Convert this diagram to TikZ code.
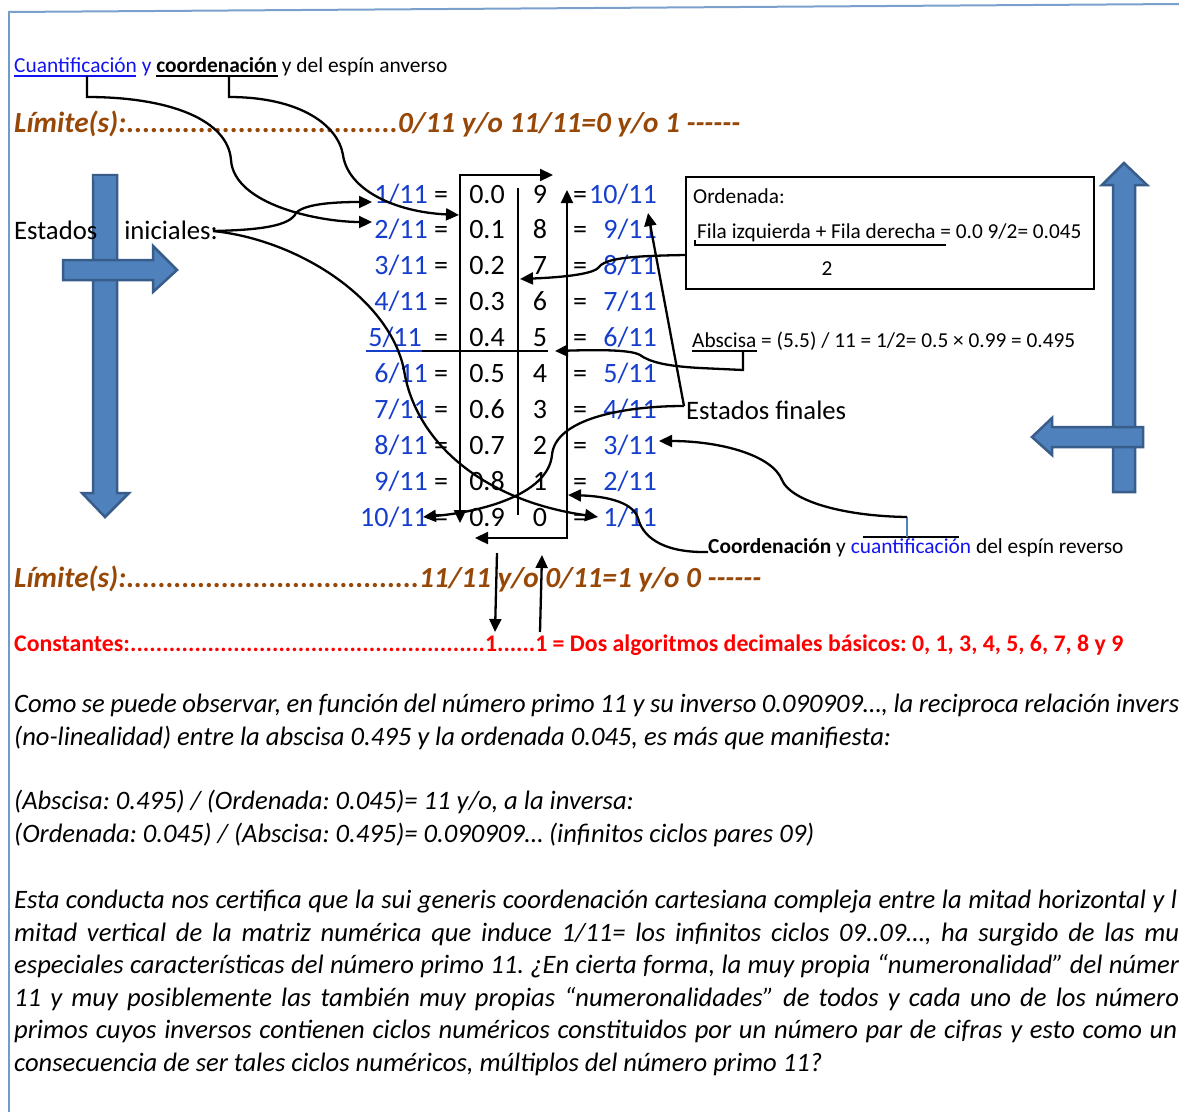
\documentclass[tikz,border=0pt]{standalone}
\usepackage{fontspec}
\setmainfont{Carlito}
\usetikzlibrary{arrows.meta}
\definecolor{fracblue}{RGB}{22,62,205}
\definecolor{linkblue}{RGB}{20,20,240}
\definecolor{limbrown}{RGB}{152,72,6}
\definecolor{arrfill}{RGB}{79,129,189}
\definecolor{arredge}{RGB}{56,93,138}
\definecolor{borderblue}{RGB}{79,129,189}
\definecolor{constred}{RGB}{255,0,0}
\tikzset{
  >={Triangle[length=13pt,width=12pt]},
  cline/.style={line width=2.3pt},
  tbl/.style={inner sep=0pt, font=\fontsize{28}{32}\selectfont},
  frac/.style={tbl, text=fracblue},
  smalltxt/.style={inner sep=0pt, anchor=base west, font=\fontsize{21.4}{25}\selectfont},
  bigtxt/.style={inner sep=0pt, anchor=base west, font=\fontsize{26.7}{31}\selectfont},
  limtxt/.style={inner sep=0pt, anchor=base west, text=limbrown, font=\fontsize{29.2}{33}\selectfont\bfseries\itshape},
  consttxt/.style={inner sep=0pt, anchor=base west, text=constred, font=\fontsize{23.8}{27}\selectfont\bfseries},
  paratxt/.style={inner sep=0pt, anchor=base west, font=\fontsize{26.6}{31}\selectfont\itshape},
  blockarrow/.style={fill=arrfill, draw=arredge, line width=2.5pt, line join=miter},
}
\newcommand{\dotsto}[2]{\makebox[#1pt][l]{#2\xleaders\hbox{.}\hfill}}
\newcommand{\sixdash}{{-}{-}{-}{-}{-}{-}}
\frenchspacing
\begin{document}
\begin{tikzpicture}[x=1pt,y=-1pt]
\useasboundingbox (0,0) rectangle (1179,1112);
\clip (0,0) rectangle (1179,1112);
\fill[white] (0,0) rectangle (1179,1112);
% border
\draw[borderblue!80, line width=2pt] (9,1112) -- (9,12);
\draw[borderblue!75, line width=2pt] (8,12) -- (1179,4);

% ---------- top label
\node[smalltxt] (toplbl) at (14,72) {\textcolor{linkblue}{Cuantificación y} \textbf{coordenación} y del espín anverso};
\draw[linkblue, line width=1.3pt] (14,76) -- (136,76);
\draw[black, line width=1.8pt] (156,76) -- (278,76);
\coordinate (cuanU) at (87,76);
\coordinate (coorU) at (229,76);

% ---------- limits
\node[limtxt] (lim1) at (14,132) {\dotsto{384}{Límite(s):}0/11 y/o 11/11=0 y/o 1 \sixdash};
\node[limtxt] (lim2) at (14,587) {\dotsto{405}{Límite(s):}11/11 y/o 0/11=1 y/o 0 \sixdash};
\node[consttxt] (const) at (14,651) {\dotsto{471}{Constantes:}1......1 = Dos algoritmos decimales básicos: 0, 1, 3, 4, 5, 6, 7, 8 y 9};

% ---------- blue block arrows (left)
\draw[blockarrow] (93,175) -- (117,175) -- (117,493) -- (129,493) -- (105,517) -- (82,493) -- (93,493) -- cycle;
\node[bigtxt] (estini) at (14,239) {Estados\hspace{21pt} iniciales:};
\draw[blockarrow] (93,175) -- (117,175) -- (117,258);
\draw[blockarrow] (63,260) -- (153,260) -- (153,246) -- (177,270) -- (153,292) -- (153,280) -- (63,280) -- cycle;
% right
\draw[blockarrow] (1113,492) -- (1113,185) -- (1102,185) -- (1124,163) -- (1147,185) -- (1135,185) -- (1135,492) -- cycle;
\draw[blockarrow] (1143,427) -- (1052,427) -- (1052,418) -- (1032,437) -- (1052,455) -- (1052,447) -- (1143,447) -- cycle;

% ---------- table
\foreach \i in {1,...,10}{
  \pgfmathsetmacro{\b}{203+35.9*(\i-1)}
  \pgfmathtruncatemacro{\dl}{\i-1}
  \pgfmathtruncatemacro{\dr}{10-\i}
  \pgfmathtruncatemacro{\rf}{11-\i}
  \pgfmathsetmacro{\lx}{ifthenelse(\i==5,422,428)}
  \node[frac, anchor=base east] (l\i) at (\lx,\b) {\i/11};
  \node[tbl, anchor=base] (e\i) at (441,\b) {=};
  \node[tbl, anchor=base] (a\i) at (487,\b) {0.\dl};
  \node[tbl, anchor=base] (d\i) at (540,\b) {\dr};
  \node[tbl, anchor=base] (q\i) at (580,\b) {=};
  \node[frac, anchor=base east] (r\i) at (657,\b) {\rf/11};
}
\draw[fracblue, line width=1.5pt] (366,351) -- (422,351);
\draw[cline] (422,351) -- (548,351);
\coordinate (c1a) at (460,523); \coordinate (c1b) at (460,175); \coordinate (c1c) at (553,175);
\draw[cline, <->] (c1a) -- (c1b) -- (c1c);
\coordinate (c2a) at (518,188); \coordinate (c2b) at (518,515);
\draw[cline] (c2a) -- (c2b);
\coordinate (c3a) at (567,190); \coordinate (c3b) at (567,538); \coordinate (c3c) at (475,538);
\draw[cline, <->] (c3a) -- (c3b) -- (c3c);

% ---------- ordenada box
\node[draw, line width=1.5pt, minimum width=408pt, minimum height=112pt, anchor=north west, inner sep=0pt] (ordbox) at (685,176) {};
\node[smalltxt, font=\fontsize{21.3}{26}\selectfont] (ord1) at (693,203) {Ordenada:};
\node[smalltxt, font=\fontsize{21.3}{26}\selectfont] (ord2) at (697,238) {Fila izquierda + Fila derecha = 0.0 9/2= 0.045};
\draw[line width=2pt] (695,240) -- (695,245) -- (946,245);
\node[smalltxt, anchor=base, font=\fontsize{21.3}{26}\selectfont] (ord3) at (827,275) {2};
\node[smalltxt, font=\fontsize{21.3}{26}\selectfont] (absc) at (692,347) {Abscisa = (5.5) / 11 = 1/2= 0.5 × 0.99 = 0.495};
\draw[line width=1.4pt] (692,351) -- (757,351);

\node[bigtxt] (estfin) at (686,419) {Estados finales};

% reverse label
\node[smalltxt] (revlbl) at (708,553) {\textbf{Coordenación} y \textcolor{linkblue}{cuantificación} del espín reverso};
\draw[line width=1.4pt] (863,537) -- (959,537);
\draw[arrfill, line width=1.5pt] (907,537) -- (907,517);

% ---------- connectors
\coordinate (t2l) at (372,222);
\coordinate (t1l) at (372,202);
\coordinate (t01) at (459,215);
\coordinate (t1r) at (598,517);
\coordinate (t10r) at (648,213);
\coordinate (t10l) at (423,517);
\coordinate (t7m) at (520,279);
\coordinate (t5m) at (555,351);
\coordinate (t3r) at (659,441);
\coordinate (t2r) at (568,495);
\coordinate (ordL) at (685,255);
\coordinate (absU) at (743,352);
\coordinate (estF) at (684,406);
\coordinate (estI) at (213,231);
\coordinate (revU) at (907,517);
\coordinate (revC) at (708,552);

\draw[cline, ->] (cuanU) -- (87,97) .. controls (170,97) and (228,120) .. (231,160) .. controls (234,205) and (320,222) .. (t2l);
\draw[cline, ->] (coorU) -- (229,97) .. controls (300,97) and (338,125) .. (343,155) .. controls (348,190) and (395,212) .. (t01);
\draw[cline, ->] (estI) .. controls (260,230) and (290,226) .. (296,213) .. controls (305,203) and (340,202) .. (t1l);
\draw[cline, ->] (estI) .. controls (300,240) and (390,300) .. (404,370) .. controls (415,440) and (480,500) .. (t1r);
\draw[cline, ->] (estF) -- (t10r);
\draw[cline, ->] (estF) .. controls (620,406) and (555,420) .. (552,455) .. controls (548,495) and (480,512) .. (t10l);
\draw[cline, ->] (ordL) .. controls (630,256) and (605,258) .. (598,268) .. controls (590,276) and (545,278) .. (t7m);
\draw[cline, ->] (absU) -- (743,370) -- (700,368) .. controls (665,366) and (650,362) .. (640,355) .. controls (630,349) and (590,350) .. (t5m);
\draw[cline, ->] (revU) .. controls (840,516) and (790,500) .. (782,480) .. controls (772,455) and (720,441) .. (t3r);
\draw[cline, ->] (revC) .. controls (660,553) and (642,535) .. (638,518) .. controls (632,500) and (600,496) .. (t2r);
\coordinate (dA) at (497,553); \coordinate (dB) at (495,632);
\coordinate (uA) at (540,632); \coordinate (uB) at (542,555);
\draw[cline, ->] (dA) -- (dB);
\draw[cline, ->] (uA) -- (uB);

% ---------- paragraphs
\node[paratxt] (p1) at (14,712) {\makebox[1165pt][s]{Como se puede observar, en función del número primo 11 y su inverso 0.090909…, la reciproca relación invers}};
\node[paratxt] (p2) at (14,745) {(no-linealidad) entre la abscisa 0.495 y la ordenada 0.045, es más que manifiesta:};
\node[paratxt] (p3) at (14,809) {(Abscisa: 0.495) / (Ordenada: 0.045)= 11 y/o, a la inversa:};
\node[paratxt] (p4) at (14,842) {(Ordenada: 0.045) / (Abscisa: 0.495)= 0.090909… (infinitos ciclos pares 09)};
\node[paratxt] (p5) at (14,908) {\makebox[1163pt][s]{Esta conducta nos certifica que la sui generis coordenación cartesiana compleja entre la mitad horizontal y l}};
\node[paratxt] (p6) at (14,941) {\makebox[1165pt][s]{mitad vertical de la matriz numérica que induce 1/11= los infinitos ciclos 09..09…, ha surgido de las mu}};
\node[paratxt] (p7) at (14,973) {\makebox[1165pt][s]{especiales características del número primo 11. ¿En cierta forma, la muy propia “numeronalidad” del númer}};
\node[paratxt] (p8) at (14,1006) {\makebox[1165pt][s]{11 y muy posiblemente las también muy propias “numeronalidades” de todos y cada uno de los número}};
\node[paratxt] (p9) at (14,1038) {\makebox[1163pt][s]{primos cuyos inversos contienen ciclos numéricos constituidos por un número par de cifras y esto como un}};
\node[paratxt] (p10) at (14,1071) {consecuencia de ser tales ciclos numéricos, múltiplos del número primo 11?};
\end{tikzpicture}
\end{document}
